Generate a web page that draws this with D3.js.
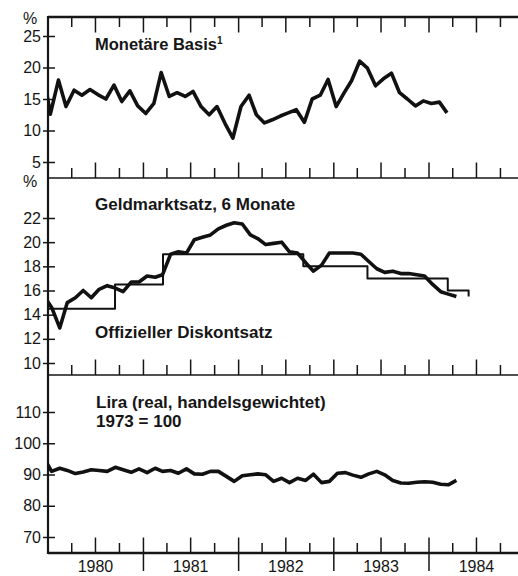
<html lang="de">
<head>
  <title>Italien</title>
  <meta charset="utf-8">
</head>

<script src="https://d3js.org/d3.v7.min.js"></script>

<style>
  body { margin: 0; background: #fff; }
  text { font-family: 'Liberation Sans', Arial, sans-serif; fill: #161616; }
</style>

<body>
  <svg id = 'canvas'></svg>
</body>

<script>

// ************************************************************************************** //
// Data (monthly, Dez. 1979 ...)

var startYear = 1979, startMonth = 11;

var monetaereBasis = [20.0,
  12.6, 18.0, 13.8, 16.4, 15.6, 16.5, 15.7, 15.0, 17.2, 14.6, 16.3, 13.9,
  12.7, 14.3, 19.2, 15.4, 16.0, 15.4, 16.2, 13.8, 12.5, 13.8, 11.1, 8.8,
  13.8, 15.6, 12.5, 11.2, 11.7, 12.3, 12.8, 13.3, 11.3, 15.0, 15.6, 18.1,
  13.8, 16.0, 17.9, 21.0, 19.9, 17.1, 18.2, 19.1, 16.0, 15.0, 13.9, 14.7,
  14.3, 14.5, 12.8];

var geldmarktsatz = [15.6,
  14.6, 12.9, 15.0, 15.4, 16.0, 15.4, 16.1, 16.4, 16.2, 15.9, 16.7, 16.7,
  17.2, 17.1, 17.3, 19.0, 19.2, 19.1, 20.2, 20.4, 20.6, 21.1, 21.4, 21.6,
  21.5, 20.6, 20.3, 19.8, 19.9, 20.0, 19.2, 19.1, 18.3, 17.6, 18.1, 19.1,
  19.1, 19.1, 19.1, 19.0, 18.4, 17.8, 17.5, 17.6, 17.4, 17.4, 17.3, 17.2,
  16.5, 15.9, 15.7, 15.5];

var diskontDates = ['1979-12-01', '1980-09-14', '1981-03-17', '1982-09-06', '1983-05-10', '1984-03-13', '1984-06-01'];
var diskontsatz  = [14.5, 16.5, 19, 18, 17, 16, 15.5];

var lira = [95.5,
  91.0, 92.0, 91.3, 90.3, 90.8, 91.5, 91.3, 91.0, 92.3, 91.5, 90.7, 91.8,
  90.6, 92.0, 91.0, 91.3, 90.4, 91.8, 90.2, 90.1, 91.0, 91.0, 89.4, 87.8,
  89.6, 89.9, 90.2, 89.9, 87.8, 88.8, 87.4, 88.8, 88.1, 90.1, 87.4, 87.8,
  90.4, 90.6, 89.8, 89.1, 90.2, 91.0, 89.9, 88.1, 87.3, 87.2, 87.5, 87.7,
  87.5, 86.9, 86.7, 88.1];

var years = [1980, 1981, 1982, 1983, 1984];
var ticks1 = [5, 10, 15, 20, 25];
var ticks2 = [10, 12, 14, 16, 18, 20, 22];
var ticks3 = [70, 80, 90, 100, 110];

// ************************************************************************************** //
// Setup

var canvas_width = 518, canvas_height = 576;
var axis_x = 48, right_x = 518;
var panel_lines = [17, 178, 375, 553];

var svg = d3.select('#canvas').attr('width', canvas_width).attr('height', canvas_height);

var x = d3.scaleTime().domain([new Date(1980, 0, 1), new Date(1984, 0, 1)]).range([48, 429]);
var y1 = d3.scaleLinear().domain([5, 25]).range([162, 36]);
var y2 = d3.scaleLinear().domain([10, 22]).range([363, 218]);
var y3 = d3.scaleLinear().domain([70, 110]).range([537, 412]);

function monthly(values, day){
  return values.map((v, i) => ({ date: new Date(startYear, startMonth + i, day), v: v }));
}

svg.append('clipPath').attr('id', 'plot').append('rect')
  .attr('x', axis_x).attr('y', 0).attr('width', right_x - axis_x).attr('height', canvas_height);

// ************************************************************************************** //
// Frame and time ticks

panel_lines.forEach((py, i) => {
  svg.append('line').attr('x1', axis_x).attr('x2', right_x).attr('y1', py).attr('y2', py)
    .attr('stroke', '#161616').attr('stroke-width', (i == 0 || i == 3) ? 2.4 : 1.6);
});
svg.append('line').attr('x1', axis_x).attr('x2', axis_x).attr('y1', 16).attr('y2', 554)
  .attr('stroke', '#161616').attr('stroke-width', 2.2);

var quarters = d3.timeMonth.every(3).range(new Date(1980, 3, 1), new Date(1985, 0, 1));

function drawTicks(py, dir, bottomAxis){
  svg.append('g').selectAll('line').data(quarters).enter().append('line')
    .attr('x1', d => x(d)).attr('x2', d => x(d))
    .attr('y1', d => (bottomAxis && d.getMonth() == 0) ? py + 18 : py)
    .attr('y2', d => py + dir * ((d.getMonth() % 6 == 0) ? 15.5 : 10))
    .attr('stroke', '#161616').attr('stroke-width', 1.5);
}
drawTicks(17, 1, false);
drawTicks(178, -1, false);
drawTicks(375, -1, false);
drawTicks(553, -1, true);

svg.append('g').selectAll('text').data(years).enter().append('text')
  .attr('x', d => x(new Date(d, 6, 1))).attr('y', 572)
  .attr('text-anchor', 'middle').style('font-size', '16px')
  .text(d => d);

// ************************************************************************************** //
// Value axes

function drawAxis(scale, values){
  var g = svg.append('g').attr('transform', 'translate(' + axis_x + ',0)')
    .call(d3.axisLeft(scale).tickValues(values).tickSize(5).tickPadding(2));
  g.select('.domain').remove();
  g.selectAll('.tick line').attr('x1', 7).attr('stroke', '#161616').attr('stroke-width', 1.5);
  g.selectAll('.tick text').style('font-size', '16px').style('font-family', "'Liberation Sans', Arial, sans-serif")
    .attr('fill', '#161616');
}
drawAxis(y1, ticks1);
drawAxis(y2, ticks2);
drawAxis(y3, ticks3);

svg.append('text').attr('x', 30).attr('y', 24).attr('text-anchor', 'middle').style('font-size', '16px').text('%');
svg.append('text').attr('x', 30).attr('y', 187).attr('text-anchor', 'middle').style('font-size', '16px').text('%');

// ************************************************************************************** //
// Series

var plot = svg.append('g').attr('clip-path', 'url(#plot)');

function drawLine(data, scale, width, curve){
  var gen = d3.line().x(d => x(d.date)).y(d => scale(d.v)).curve(curve || d3.curveLinear);
  plot.append('path').datum(data).attr('d', gen)
    .attr('fill', 'none').attr('stroke', '#111').attr('stroke-width', width)
    .attr('stroke-linejoin', 'round');
}

var diskont = diskontDates.map((d, i) => ({ date: d3.timeParse('%Y-%m-%d')(d), v: diskontsatz[i] }));

drawLine(monthly(monetaereBasis, 10), y1, 3.6);
drawLine(diskont, y2, 2, d3.curveStepAfter);
drawLine(monthly(geldmarktsatz, 15), y2, 3.6);
drawLine(monthly(lira, 15), y3, 3.6);

// ************************************************************************************** //
// Titles

function title(tx, ty, str, size){
  return svg.append('text').attr('x', tx).attr('y', ty)
    .style('font-size', (size || 17) + 'px').style('font-weight', 'bold').text(str);
}
title(95, 50, 'Monetäre Basis', 16.5).append('tspan').attr('dy', -6).style('font-size', '10px').text('1');
title(95, 210, 'Geldmarktsatz, 6 Monate');
title(95, 338, 'Offizieller Diskontsatz');
title(96, 408, 'Lira (real, handelsgewichtet)');
title(96, 427, '1973 = 100');

</script>
</html>
